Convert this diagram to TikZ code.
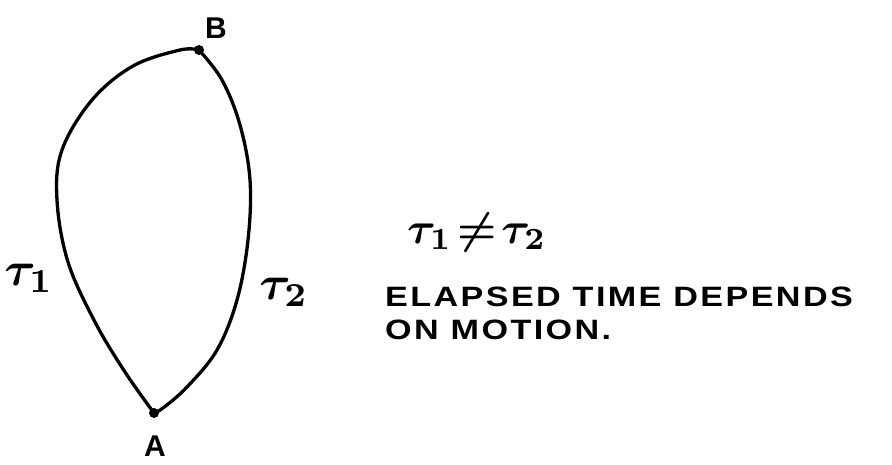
\documentclass[tikz,border=0pt]{standalone}
\usepackage{bm}
\usepackage{fontspec}
\setsansfont{Liberation Sans}
\begin{document}
\begin{tikzpicture}[x=1pt,y=-1pt,
  curve/.style={line width=3.3pt,line cap=round,line join=round},
  dotpt/.style={circle,fill=black,inner sep=0pt,minimum size=10pt},
  lbl/.style={font=\sffamily\bfseries\fontsize{30}{30}\selectfont,inner sep=0pt},
  txt/.style={font=\sffamily\bfseries\fontsize{28}{28}\selectfont,inner sep=0pt,anchor=base west},
  tau/.style={inner sep=0pt}]
\useasboundingbox (0,0) rectangle (892,464);
\node[dotpt] (A) at (154,413) {};
\node[dotpt] (B) at (199,50) {};
\draw[curve] plot[smooth,tension=0.6] coordinates {(154,413) (125,372) (95,322) (68,262) (57,200) (62,150) (92,100) (133,66) (180,50) (199,50)};
\draw[curve] plot[smooth,tension=0.6] coordinates {(199,50) (222,80) (240,125) (250,180) (248,240) (237,300) (217,350) (187,387) (163,408) (154,413)};
\node[lbl] (lB) at (216,28) {B};
\node[lbl] (lA) at (155,446) {A};
\node[tau] (t1) at (29,278) {\scalebox{4.8}{$\bm{\tau}_{\bm{1}}$}};
\node[tau] (t2) at (284,292) {\scalebox{4.8}{$\bm{\tau}_{\bm{2}}$}};
\node[tau,anchor=west] (neq) at (407,232) {\scalebox{4.4}{$\bm{\tau}_{\bm{1}}\!\bm{\neq}\!\bm{\tau}_{\bm{2}}$}};
\node[txt] (l1) at (385,306) {\scalebox{1.22}[1]{\addfontfeatures{LetterSpace=7}ELAPSED TIME DEPENDS}};
\node[txt] (l2) at (385,339) {\scalebox{1.22}[1]{\addfontfeatures{LetterSpace=7}ON MOTION.}};
\end{tikzpicture}
\end{document}
